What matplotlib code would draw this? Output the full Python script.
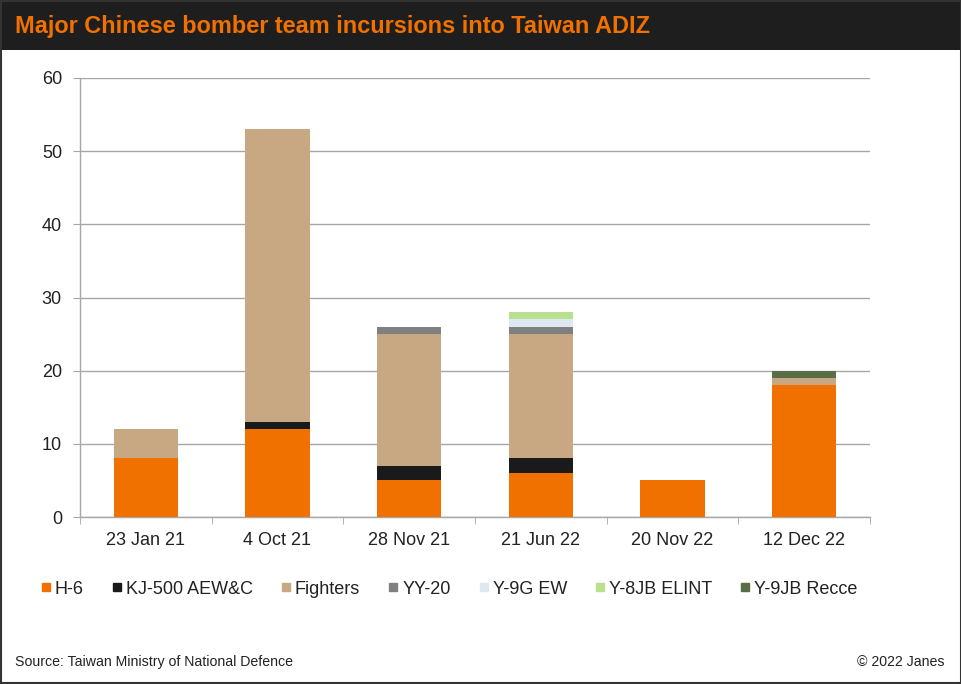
import matplotlib
matplotlib.use("Agg")
import matplotlib.pyplot as plt
from matplotlib.lines import Line2D
from matplotlib.patches import Rectangle
import numpy as np

plt.rcParams['font.family'] = ['Liberation Sans', 'DejaVu Sans']

categories = ["23 Jan 21", "4 Oct 21", "28 Nov 21", "21 Jun 22", "20 Nov 22", "12 Dec 22"]
series_names = ["H-6", "KJ-500 AEW&C", "Fighters", "YY-20", "Y-9G EW", "Y-8JB ELINT", "Y-9JB Recce"]
h6 = [8, 12, 5, 6, 5, 18]
kj500 = [0, 1, 2, 2, 0, 0]
fighters = [4, 40, 18, 17, 0, 1]
yy20 = [0, 0, 1, 1, 0, 0]
y9g = [0, 0, 0, 1, 0, 0]
y8jb = [0, 0, 0, 1, 0, 0]
y9jb = [0, 0, 0, 0, 0, 1]
series = [h6, kj500, fighters, yy20, y9g, y8jb, y9jb]
colors = ["#f07000", "#1a1a1a", "#c8a882", "#808080", "#dde8f0", "#b8e08f", "#5a6e46"]

fig = plt.figure(figsize=(9.62, 6.84), dpi=100)
fig.patch.set_facecolor("white")

# header band
fig.patches.append(Rectangle((0, 1 - 50/684), 1, 50/684, transform=fig.transFigure,
                             facecolor="#1e1e1e", edgecolor="none", zorder=0))
fig.patches.append(Rectangle((0.0008, 0.0012), 0.9984, 0.9976, transform=fig.transFigure,
                             facecolor="none", edgecolor="#333333", linewidth=1.5, zorder=5))
fig.text(15/962, 1 - 27/684, "Major Chinese bomber team incursions into Taiwan ADIZ",
         color="#f07000", fontsize=16.9, fontweight="bold", va="center", ha="left")

ax = fig.add_axes([80/962, 1 - 517/684, 790/962, 439/684])
x = np.arange(len(categories))
bottom = np.zeros(len(categories))
for name, vals, c in zip(series_names, series, colors):
    ax.bar(x, vals, bottom=bottom, width=0.49, color=c, label=name, zorder=3)
    bottom += np.array(vals)

ax.set_xlim(-0.5, len(categories) - 0.5)
ax.set_ylim(0, 60)
ax.set_yticks(range(0, 61, 10))
ax.yaxis.grid(True, color="#a6a6a6", linewidth=1, zorder=0)
for s in ["top", "right"]:
    ax.spines[s].set_visible(False)
for s in ["left", "bottom"]:
    ax.spines[s].set_color("#a6a6a6")
    ax.spines[s].set_linewidth(1)
ax.set_xticks(x)
ax.set_xticklabels(categories)
ax.set_xticks(np.arange(-0.5, len(categories), 1), minor=True)
ax.tick_params(axis="x", which="major", length=0, pad=11, labelsize=13, labelcolor="#222222")
ax.tick_params(axis="x", which="minor", length=5, color="#a6a6a6")
ax.tick_params(axis="y", length=5, color="#a6a6a6", pad=8, labelsize=13, labelcolor="#222222")

handles = [Line2D([], [], marker="s", linestyle="none", markersize=6, color=c,
                  markeredgecolor=c) for c in colors]
fig.legend(handles, series_names, loc="center", bbox_to_anchor=(449/962, 1 - 589/684),
           ncol=7, frameon=False, fontsize=13, handlelength=0.6, handletextpad=0.2,
           columnspacing=1.53, labelcolor="#222222")

fig.text(15/962, 1 - 662/684, "Source: Taiwan Ministry of National Defence",
         fontsize=10.2, ha="left", va="center", color="#222222")
fig.text(945/962, 1 - 662/684, "© 2022 Janes",
         fontsize=10.2, ha="right", va="center", color="#222222")

fig.savefig("out.png", dpi=100)
